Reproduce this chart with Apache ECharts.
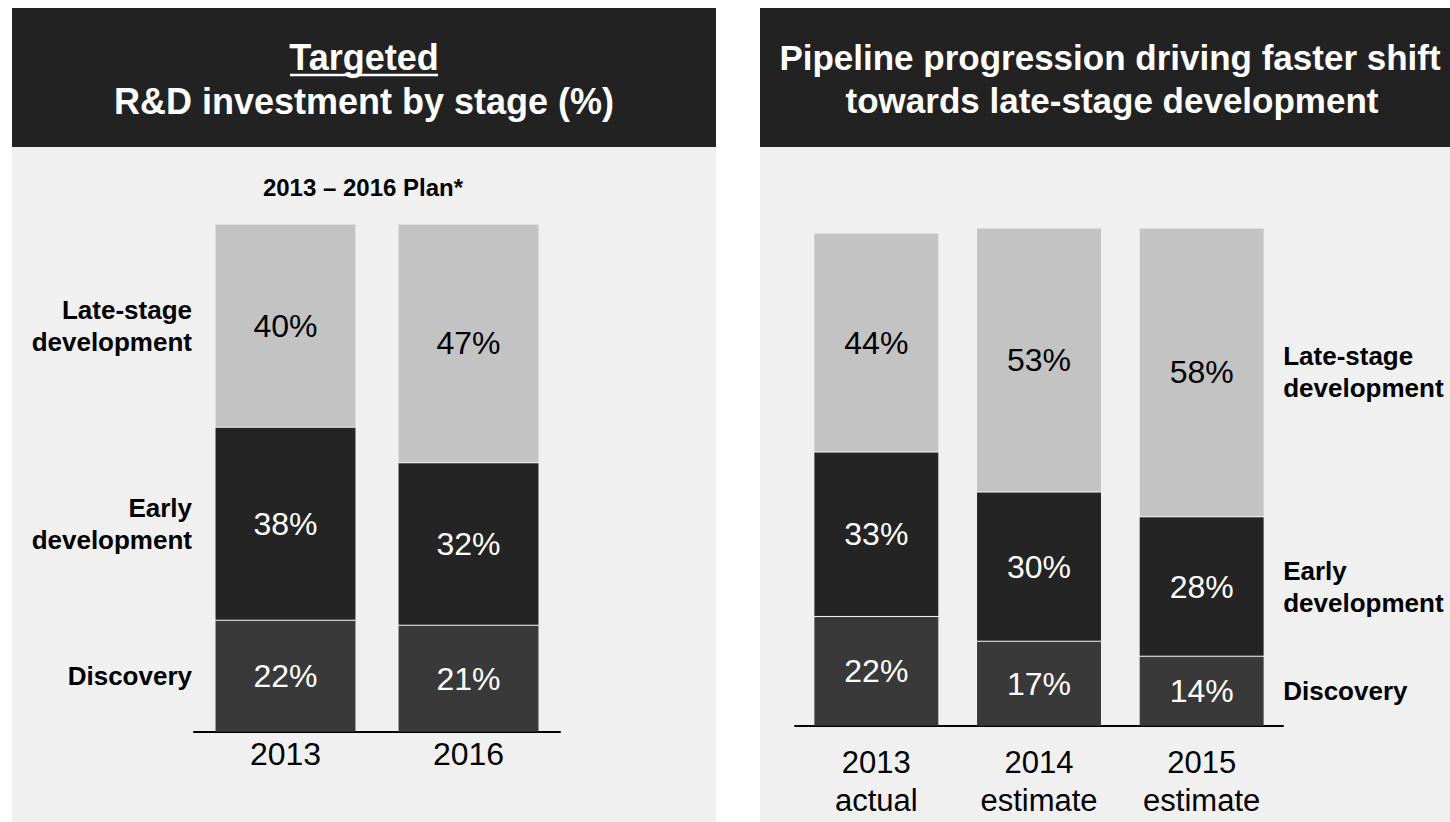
<!DOCTYPE html>
<html>
<head>
<meta charset="utf-8">
<title>R&amp;D investment by stage</title>
<script src="https://cdn.jsdelivr.net/npm/echarts@6/dist/echarts.min.js"></script>
<style>
  html, body { margin: 0; padding: 0; background: #ffffff; }
  #chart { width: 1450px; height: 822px; }
</style>
</head>
<body>
<div id="chart"></div>
<script>
// Targeted R&D investment split (%), 2013 vs 2016 plan
const planCategories = ['2013', '2016'];
const planDiscovery = [22, 21];
const planEarly = [38, 32];
const planLate = [40, 47];

// Pipeline-driven split (%), 2013 actual and 2014/2015 estimates
const pipelineCategories = ['2013\nactual', '2014\nestimate', '2015\nestimate'];
const pipelineDiscovery = [22, 17, 14];
const pipelineEarly = [33, 30, 28];
const pipelineLate = [44, 53, 58];

const stageNames = ['Discovery', 'Early\ndevelopment', 'Late-stage\ndevelopment'];

const FONT = '"Liberation Sans", Arial, Helvetica, sans-serif';
const COLORS = { late: '#c3c3c3', early: '#242424', discovery: '#393939' };

// Midpoint of each stacked segment of one bar, used to place the stage names
function segmentMidpoints(values) {
  const mids = [];
  let base = 0;
  values.forEach(v => { mids.push(base + v / 2); base += v; });
  return mids;
}

function stageLabelData(catIndex, discovery, early, late) {
  const mids = segmentMidpoints([discovery[catIndex], early[catIndex], late[catIndex]]);
  return mids.map((m, i) => [catIndex, m, stageNames[i]]);
}

function stageLabelSeries(gridIdx, data, side, barWidth, gap) {
  return {
    type: 'custom',
    xAxisIndex: gridIdx,
    yAxisIndex: gridIdx,
    silent: true,
    clip: false,
    z: 5,
    data: data,
    encode: { x: 0, y: 1 },
    renderItem: function (params, api) {
      const pt = api.coord([api.value(0), api.value(1)]);
      const dx = (barWidth / 2 + gap) * (side === 'left' ? -1 : 1);
      return {
        type: 'text',
        x: pt[0] + dx,
        y: pt[1],
        style: {
          text: data[params.dataIndex][2],
          align: side === 'left' ? 'right' : 'left',
          verticalAlign: 'middle',
          font: 'bold 26px ' + FONT,
          lineHeight: 32,
          fill: '#000000'
        }
      };
    }
  };
}

function stackSeries(gridIdx, stack, values, color, labelColor, barWidth) {
  return {
    type: 'bar',
    xAxisIndex: gridIdx,
    yAxisIndex: gridIdx,
    stack: stack,
    barWidth: barWidth,
    data: values,
    itemStyle: { color: color, borderColor: 'rgba(255,255,255,0.07)', borderWidth: 1 },
    label: {
      show: true,
      position: 'inside',
      formatter: '{c}%',
      color: labelColor,
      fontFamily: FONT,
      fontSize: 32
    }
  };
}

const chart = echarts.init(document.getElementById('chart'), null, { renderer: 'svg' });

const headerFont = 'bold 36px ' + FONT;
const headerFontRight = 'bold 35px ' + FONT;

chart.setOption({
  backgroundColor: '#ffffff',
  animation: false,
  graphic: [
    // panel backgrounds
    { type: 'rect', z: -10, shape: { x: 12, y: 147, width: 704, height: 675 }, style: { fill: '#f0f0f0' } },
    { type: 'rect', z: -10, shape: { x: 760, y: 147, width: 690, height: 675 }, style: { fill: '#f0f0f0' } },
    // header bars
    { type: 'rect', z: -10, shape: { x: 12, y: 8, width: 704, height: 139 }, style: { fill: '#222222' } },
    { type: 'rect', z: -10, shape: { x: 760, y: 8, width: 690, height: 139 }, style: { fill: '#222222' } },
    // left header
    { type: 'text', x: 364, y: 57, style: { text: 'Targeted', font: headerFont, fill: '#ffffff', align: 'center', verticalAlign: 'middle' } },
    { type: 'line', shape: { x1: 290, y1: 75, x2: 438, y2: 75 }, style: { stroke: '#ffffff', lineWidth: 2.5 } },
    { type: 'text', x: 364, y: 101, style: { text: 'R&D investment by stage (%)', font: headerFont, fill: '#ffffff', align: 'center', verticalAlign: 'middle' } },
    // right header
    { type: 'text', x: 1110, y: 57, style: { text: 'Pipeline progression driving faster shift', font: headerFontRight, fill: '#ffffff', align: 'center', verticalAlign: 'middle' } },
    { type: 'text', x: 1112, y: 100, style: { text: 'towards late-stage development', font: headerFontRight, fill: '#ffffff', align: 'center', verticalAlign: 'middle' } },
    // plan subtitle
    { type: 'text', x: 363, y: 187, style: { text: '2013 \u2013 2016 Plan*', font: 'bold 24px ' + FONT, fill: '#000000', align: 'center', verticalAlign: 'middle' } }
  ],
  grid: [
    { left: 194, top: 224, width: 366, height: 508 },
    { left: 795, top: 228, width: 488, height: 498 }
  ],
  xAxis: [
    {
      gridIndex: 0,
      type: 'category',
      data: planCategories,
      axisLine: { lineStyle: { color: '#000000', width: 2 } },
      axisTick: { show: false },
      axisLabel: { color: '#000000', fontFamily: FONT, fontSize: 32, lineHeight: 36, margin: 4 }
    },
    {
      gridIndex: 1,
      type: 'category',
      data: pipelineCategories,
      axisLine: { lineStyle: { color: '#000000', width: 2 } },
      axisTick: { show: false },
      axisLabel: { color: '#000000', fontFamily: FONT, fontSize: 31, lineHeight: 38, margin: 17 }
    }
  ],
  yAxis: [
    { gridIndex: 0, type: 'value', min: 0, max: 100, show: false },
    { gridIndex: 1, type: 'value', min: 0, max: 100, show: false }
  ],
  series: [
    stackSeries(0, 'plan', planDiscovery, COLORS.discovery, '#ffffff', 141),
    stackSeries(0, 'plan', planEarly, COLORS.early, '#ffffff', 141),
    stackSeries(0, 'plan', planLate, COLORS.late, '#000000', 141),
    stackSeries(1, 'pipeline', pipelineDiscovery, COLORS.discovery, '#ffffff', 125),
    stackSeries(1, 'pipeline', pipelineEarly, COLORS.early, '#ffffff', 125),
    stackSeries(1, 'pipeline', pipelineLate, COLORS.late, '#000000', 125),
    stageLabelSeries(0, stageLabelData(0, planDiscovery, planEarly, planLate), 'left', 141, 23),
    stageLabelSeries(1, stageLabelData(pipelineCategories.length - 1, pipelineDiscovery, pipelineEarly, pipelineLate), 'right', 125, 19)
  ]
});
</script>
</body>
</html>
